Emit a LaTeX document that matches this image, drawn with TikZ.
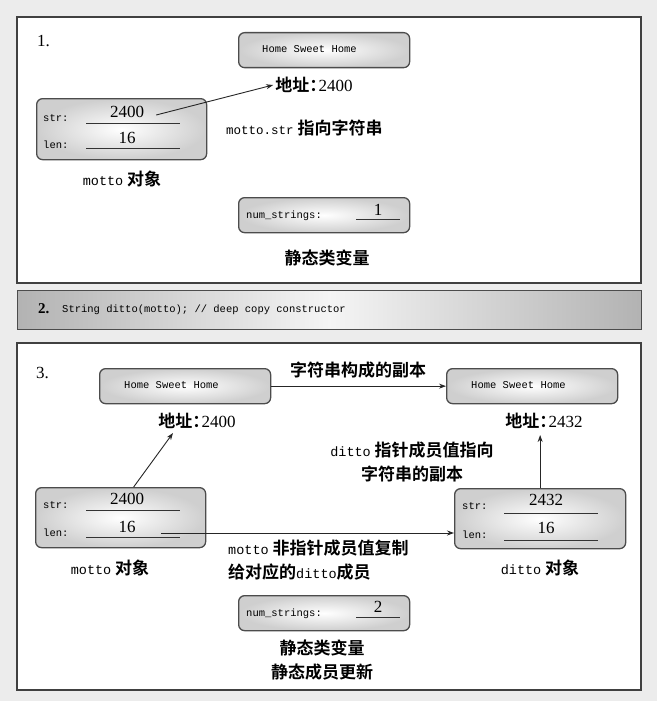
\documentclass[tikz,border=0pt]{standalone}
\usepackage{fontspec}
\setmainfont{Liberation Serif}
\setmonofont{Liberation Mono}
\newfontfamily\cjk{Noto Sans CJK SC Bold}
\usetikzlibrary{arrows.meta,calc}
\tikzset{
  panel/.style={draw=black!75, line width=1.2pt, fill=white},
  membox/.style={rounded corners=6pt, draw=black!70, line width=1.3pt, inner color=white, outer color=gray!38, anchor=north west, inner sep=0pt},
  boxtxt/.style={font=\fontsize{10.5}{12}\selectfont\ttfamily, anchor=west, inner sep=0pt},
  num/.style={font=\fontsize{17}{18}\selectfont, inner sep=0pt},
  cn/.style={font=\fontsize{17}{24}\selectfont\cjk, inner sep=0pt},
  fld/.style={line width=0.9pt, draw=black!80},
  arr/.style={-{Stealth[length=7pt,width=5pt]}, line width=0.9pt, draw=black!85},
}
\newcommand{\addr}[1]{{\cjk 地址：}\kern-0.45em#1}
\newcommand{\mt}[1]{{\fontsize{13.5}{14}\selectfont\ttfamily #1}}
\begin{document}
\begin{tikzpicture}[x=1pt,y=-1pt]
\useasboundingbox (0,0) rectangle (657,701);
\fill[gray!15] (0,0) rectangle (657,701);
% ---------- panel 1
\draw[panel] (17,17) rectangle (641,283);
\node[num, anchor=west] (n1) at (37,41) {1.};
\node[membox, minimum width=171pt, minimum height=35pt] (hsh1) at (238,32) {};
\node[boxtxt] (hsh1t) at (262,49.5) {Home Sweet Home};
\node[num] (addr1) at (314,85) {\addr{2400}};
\node[membox, minimum width=170pt, minimum height=61pt] (motto1) at (36,98) {};
\node[boxtxt] (s1) at (43,118) {str:};
\node[num] (v1) at (127,112) {2400};
\draw[fld] (86,123) -- (180,123);
\node[boxtxt] (l1) at (43,145) {len:};
\node[num] (w1) at (127,138) {16};
\draw[fld] (86,148) -- (180,148);
\draw[arr] ([xshift=12pt,yshift=-3pt]v1.east) -- ([xshift=-2pt]addr1.west);
\node[cn, anchor=west] (lab1) at (226,128) {{\fontsize{12.5}{14}\selectfont\ttfamily motto.str} 指向字符串};
\node[cn] (mo1) at (122,179) {\mt{motto} 对象};
\node[membox, minimum width=171pt, minimum height=35pt] (ns1) at (238,197) {};
\node[boxtxt] (ns1t) at (246,216) {num\_strings:};
\node[num] (ns1v) at (378,210) {1};
\draw[fld] (356,219) -- (400,219);
\node[cn] (st1) at (327,258) {静态类变量};
% ---------- panel 2
\shade[left color=gray!60, right color=gray!60, middle color=gray!8, draw=black!70, line width=1pt] (17,290) rectangle (641,329);
\node[font=\fontsize{15}{16}\selectfont\bfseries, anchor=west, inner sep=0pt] (n2) at (38,309) {2.};
\node[boxtxt] (code) at (62,310) {String ditto(motto); // deep copy constructor};
% ---------- panel 3
\draw[panel] (17,343) rectangle (641,690);
\node[num, anchor=west] (n3) at (36,373) {3.};
\node[membox, minimum width=171pt, minimum height=35pt] (hshL) at (99,368) {};
\node[boxtxt] (hshLt) at (124,385.5) {Home Sweet Home};
\node[membox, minimum width=171pt, minimum height=35pt] (hshR) at (446,368) {};
\node[boxtxt] (hshRt) at (471,385.5) {Home Sweet Home};
\draw[arr] (hshL.east) -- (hshR.west);
\node[cn] (copy) at (358,370) {字符串构成的副本};
\node[num] (a3L) at (197,421) {\addr{2400}};
\node[num] (a3R) at (544,421) {\addr{2432}};
\node[cn, align=center] (dlab) at (412,462) {\mt{ditto} 指针成员值指向\\字符串的副本};
% motto object
\node[membox, minimum width=170pt, minimum height=60pt] (motto3) at (35,487) {};
\node[boxtxt] (s3) at (43,505) {str:};
\node[num] (v3) at (127,499) {2400};
\draw[fld] (86,510) -- (180,510);
\node[boxtxt] (l3) at (43,533) {len:};
\node[num] (w3) at (127,527) {16};
\draw[fld] (86,537) -- (180,537);
% ditto object
\node[membox, minimum width=171pt, minimum height=60pt] (ditto3) at (454,488) {};
\node[boxtxt] (s4) at (462,506) {str:};
\node[num] (v4) at (546,500) {2432};
\draw[fld] (504,513) -- (598,513);
\node[boxtxt] (l4) at (462,535) {len:};
\node[num] (w4) at (546,528) {16};
\draw[fld] (504,540) -- (598,540);
% arrows
\draw[arr] ([xshift=13pt]motto3.north) -- ([xshift=-24pt,yshift=-4pt]a3L.south);
\coordinate (dtip) at ($(ditto3.north |- a3R.south)+(0,6)$);
\draw[arr] (ditto3.north) -- (dtip);
\coordinate (lenS) at (161,533);
\draw[arr] (lenS) -- (lenS -| ditto3.west);
\node[cn, align=left, anchor=north west] (nplab) at (228,540) {\mt{motto} 非指针成员值复制\\给对应的\mt{ditto}成员};
\node[cn] (mo3) at (110,568) {\mt{motto} 对象};
\node[cn] (do3) at (540,568) {\mt{ditto} 对象};
\node[membox, minimum width=171pt, minimum height=35pt] (ns3) at (238,595) {};
\node[boxtxt] (ns3t) at (246,614) {num\_strings:};
\node[num] (ns3v) at (378,607) {2};
\draw[fld] (356,617) -- (400,617);
\node[cn, align=center] (st3) at (322,660) {静态类变量\\静态成员更新};
\end{tikzpicture}
\end{document}
